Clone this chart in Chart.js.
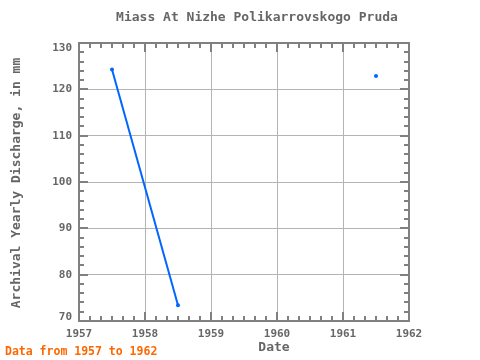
<!DOCTYPE html>
<html>
<head>
<meta charset="utf-8">
<script src="https://cdn.jsdelivr.net/npm/chart.js@4/dist/chart.umd.min.js"></script>
<style>
  body { margin: 0; background: #fff; }
  canvas { display: block; }
</style>
</head>
<body>
<canvas id="myChart" width="480" height="360"></canvas>
<script>
// data
const years = [1957.5, 1958.5, 1959.5, 1960.5, 1961.5];
const discharge = [124.3, 73.4, null, null, 122.9];
const xTicks = [1957, 1958, 1959, 1960, 1961, 1962];
const yTicks = [70, 80, 90, 100, 110, 120, 130];

const titleText = 'Miass At Nizhe Polikarrovskogo Pruda';
const yTitle = 'Archival Yearly Discharge, in mm';
const xTitle = 'Date';
const footer = 'Data from 1957 to 1962';

const FONT = '"DejaVu Sans Mono", "Liberation Mono", monospace';
const AXIS = '#808080';
const TEXT = '#666666';

// minor ticks, frame, y labels and texts
const decorations = {
    id: 'decorations',
    afterDraw(chart) {
        const ctx = chart.ctx;
        const a = chart.chartArea;
        const xs = chart.scales.x, ys = chart.scales.y;
        ctx.save();
        ctx.strokeStyle = AXIS;
        ctx.lineWidth = 2;
        ctx.beginPath();
        // x ticks (every 2 months)
        for (let i = 0; i <= 30; i++) {
            const px = Math.round(xs.getPixelForValue(xTicks[0] + i / 6));
            const len = (i % 6 === 0) ? 9 : 5;
            ctx.moveTo(px, a.bottom); ctx.lineTo(px, a.bottom - len);
            ctx.moveTo(px, a.top); ctx.lineTo(px, a.top + len);
        }
        // y ticks (every 2 mm)
        for (let i = 0; i <= 30; i++) {
            const py = Math.round(ys.getPixelForValue(yTicks[0] + i * 2));
            const len = (i % 5 === 0) ? 9 : 5;
            ctx.moveTo(a.left, py); ctx.lineTo(a.left + len, py);
            ctx.moveTo(a.right, py); ctx.lineTo(a.right - len, py);
        }
        ctx.stroke();
        ctx.strokeRect(a.left, a.top, a.right - a.left, a.bottom - a.top);

        // y tick labels, end labels kept inside the frame
        ctx.fillStyle = TEXT;
        ctx.font = 'bold 11px ' + FONT;
        ctx.textAlign = 'right';
        ctx.textBaseline = 'middle';
        yTicks.forEach(v => {
            let py = ys.getPixelForValue(v);
            py = Math.min(Math.max(py, a.top + 5), a.bottom - 4);
            ctx.fillText(String(v), a.left - 7, py);
        });

        // texts
        ctx.font = 'bold 13px ' + FONT;
        ctx.textAlign = 'center';
        ctx.fillText(titleText, 257, 18);
        ctx.fillText(xTitle, 274, 348);
        ctx.save();
        ctx.translate(17, 183);
        ctx.rotate(-Math.PI / 2);
        ctx.fillText(yTitle, 0, 0);
        ctx.restore();
        ctx.fillStyle = '#ff6600';
        ctx.font = 'bold 11.5px ' + FONT;
        ctx.textAlign = 'left';
        ctx.fillText(footer, 5, 352);
        ctx.restore();
    }
};

const ctx = document.getElementById('myChart').getContext('2d');
new Chart(ctx, {
    type: 'line',
    data: {
        datasets: [{
            data: years.map((y, i) => ({ x: y, y: discharge[i] })),
            borderColor: '#0066ff',
            backgroundColor: '#0066ff',
            borderWidth: 2,
            pointRadius: 2,
            pointBorderWidth: 0,
            spanGaps: false,
            tension: 0
        }]
    },
    options: {
        responsive: false,
        animation: false,
        devicePixelRatio: 1,
        layout: { padding: { top: 43, right: 71, left: 0, bottom: 0 } },
        plugins: {
            legend: { display: false },
            tooltip: { enabled: false },
            title: { display: false }
        },
        scales: {
            x: {
                type: 'linear',
                min: 1957,
                max: 1962,
                afterBuildTicks: s => { s.ticks = xTicks.map(v => ({ value: v })); },
                afterFit: s => { s.height = 39; },
                ticks: {
                    callback: v => String(v),
                    color: TEXT,
                    font: { family: FONT, size: 11, weight: 'bold' },
                    padding: 7,
                    maxRotation: 0
                },
                grid: { color: '#b4b4b4', drawTicks: false },
                border: { color: AXIS, width: 2 }
            },
            y: {
                min: 70,
                max: 130,
                afterBuildTicks: s => { s.ticks = yTicks.map(v => ({ value: v })); },
                afterFit: s => { s.width = 79; },
                ticks: { display: false },
                grid: { color: '#b4b4b4', drawTicks: false },
                border: { color: AXIS, width: 2 }
            }
        }
    },
    plugins: [decorations]
});
</script>
</body>
</html>
